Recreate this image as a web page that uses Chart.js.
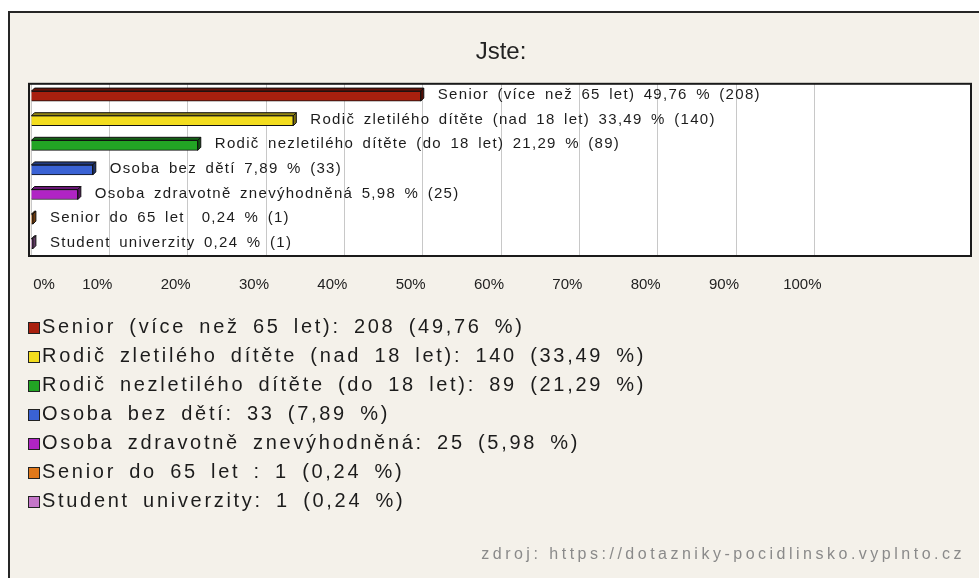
<!DOCTYPE html>
<html>
<head>
<meta charset="utf-8">
<script src="https://cdn.jsdelivr.net/npm/chart.js@4"></script>
<style>
  html, body { margin: 0; padding: 0; background: #fff; }
  #wrap { position: relative; width: 979px; height: 578px; overflow: hidden; }
  #frame { position: absolute; left: 8px; top: 11px; width: 990px; height: 600px;
           border: 2px solid #262626; background: #f4f1ea; }
  #pie { position: absolute; left: 0; top: 0; }
  #legend { position: absolute; left: 28px; top: 312px; font-family: "Liberation Sans", Arial, sans-serif;
            font-size: 20px; letter-spacing: 2.7px; word-spacing: 5px; color: #1c1c1c; }
  #legend div { height: 29px; line-height: 29px; white-space: nowrap; }
  #legend span.box { display: inline-block; width: 10px; height: 10px; border: 1px solid #222;
                     margin-right: 2px; vertical-align: -1px; }
  #source { position: absolute; right: 14px; top: 545px; font-family: "Liberation Sans", Arial, sans-serif;
            font-size: 16px; letter-spacing: 3.5px; color: #8a8a8a; white-space: nowrap; }
</style>
</head>
<body>
<div id="wrap">
  <div id="frame"></div>
  <canvas id="pie" width="979" height="578"></canvas>
  <div id="legend"></div>
  <div id="source">zdroj: https://dotazniky-pocidlinsko.vyplnto.cz</div>
</div>
<script>
const dream = document.getElementById('pie')

const categories = [
  'Senior (více než 65 let)',
  'Rodič zletilého dítěte (nad 18 let)',
  'Rodič nezletilého dítěte (do 18 let)',
  'Osoba bez dětí',
  'Osoba zdravotně znevýhodněná',
  'Senior do 65 let ',
  'Student univerzity'
]
const counts = [208, 140, 89, 33, 25, 1, 1]
const percents = [49.76, 33.49, 21.29, 7.89, 5.98, 0.24, 0.24]
const colors = ['#a8200e', '#f2dc1e', '#22a424', '#3a62d4', '#b024c4', '#e0781a', '#c476c8']
const tickValues = [0, 10, 20, 30, 40, 50, 60, 70, 80, 90, 100]

const fmt = v => v.toFixed(2).replace('.', ',')

// legend below the chart
const legend = document.getElementById('legend')
categories.forEach((c, i) => {
  const row = document.createElement('div')
  row.innerHTML = '<span class="box" style="background:' + colors[i] + '"></span>' +
    c + ': ' + counts[i] + ' (' + fmt(percents[i]) + ' %)'
  legend.appendChild(row)
})

function shade(hex, k) {
  const n = parseInt(hex.slice(1), 16)
  const r = Math.round(((n >> 16) & 255) * k), g = Math.round(((n >> 8) & 255) * k), b = Math.round((n & 255) * k)
  return 'rgb(' + r + ',' + g + ',' + b + ')'
}

const plotBox = {
  id: 'plotBox',
  beforeDraw(chart) {
    const a = chart.chartArea, c = chart.ctx
    c.save()
    c.fillStyle = '#fff'
    c.fillRect(a.left, a.top, a.right - a.left, a.bottom - a.top)
    c.restore()
  },
  afterDraw(chart) {
    const a = chart.chartArea, c = chart.ctx
    c.save()
    c.strokeStyle = '#1a1a1a'
    c.lineWidth = 2
    c.strokeRect(a.left - 2, a.top, a.right - a.left + 2, a.bottom - a.top)
    c.restore()
  }
}

// 3d look + text next to each bar
const barText = {
  id: 'barText',
  afterDatasetsDraw(chart) {
    const c = chart.ctx
    const meta = chart.getDatasetMeta(0)
    const d = 3
    meta.data.forEach((bar, i) => {
      const top = bar.y - bar.height / 2, bot = bar.y + bar.height / 2
      c.save()
      c.strokeStyle = '#111'
      c.lineWidth = 1
      c.fillStyle = shade(colors[i], 0.6)
      c.beginPath()
      c.moveTo(bar.base, top); c.lineTo(bar.base + d, top - d); c.lineTo(bar.x + d, top - d); c.lineTo(bar.x, top); c.closePath()
      c.fill(); c.stroke()
      c.fillStyle = shade(colors[i], 0.5)
      c.beginPath()
      c.moveTo(bar.x, top); c.lineTo(bar.x + d, top - d); c.lineTo(bar.x + d, bot - d); c.lineTo(bar.x, bot); c.closePath()
      c.fill(); c.stroke()
      c.font = '15px "Liberation Sans", Arial, sans-serif'
      c.letterSpacing = '1.3px'
      c.wordSpacing = '3px'
      c.fillStyle = '#1c1c1c'
      c.textBaseline = 'middle'
      c.fillText(categories[i] + ' ' + fmt(percents[i]) + ' % (' + counts[i] + ')', bar.x + 17, bar.y - 1)
      c.restore()
    })
  }
}

new Chart(dream, {
  type: 'bar',
  data: {
    labels: categories,
    datasets: [{
      data: percents,
      backgroundColor: colors,
      borderColor: '#111',
      borderWidth: 1,
      barThickness: 10
    }]
  },
  options: {
    indexAxis: 'y',
    responsive: false,
    animation: false,
    layout: { padding: { top: 38, left: 31, right: 8, bottom: 264 } },
    plugins: {
      legend: { display: false },
      tooltip: { enabled: false },
      title: {
        display: true,
        text: 'Jste:',
        color: '#222',
        font: { family: 'Liberation Sans', size: 24, weight: 'normal', lineHeight: 1.2 },
        padding: { top: 0, bottom: 17 }
      }
    },
    scales: {
      x: {
        type: 'linear',
        min: 0,
        max: 120,
        afterBuildTicks: axis => { axis.ticks = tickValues.map(v => ({ value: v })) },
        // labels must not push the plot area around
        afterFit: axis => { axis.paddingLeft = 0; axis.paddingRight = 0 },
        grid: { color: '#c8c8c8', drawTicks: false },
        border: { display: false },
        ticks: {
          // first label sits right of the axis start in the original
          callback: v => (v === 0 ? '            ' : '') + v + '%',
          color: '#222',
          font: { family: 'Liberation Sans', size: 15 },
          padding: 20,
          labelOffset: -12,
          maxRotation: 0,
          autoSkip: false
        }
      },
      y: {
        display: false
      }
    }
  },
  plugins: [plotBox, barText]
})
</script>
</body>
</html>
